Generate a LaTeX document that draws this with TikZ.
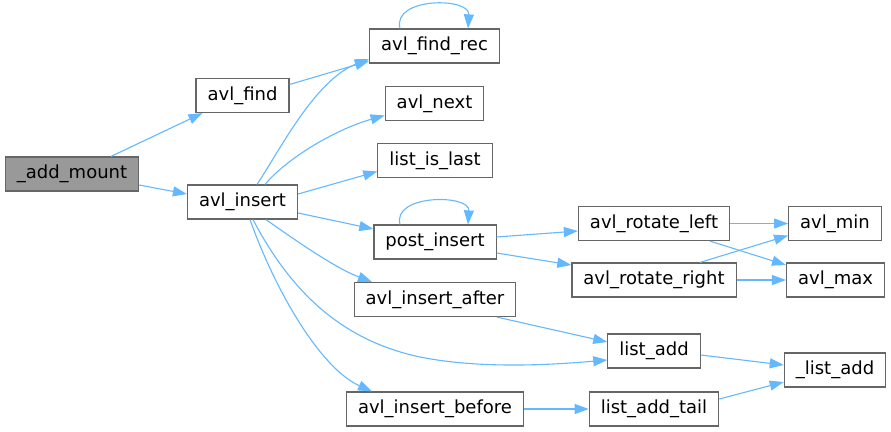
\documentclass[tikz,border=0pt]{standalone}
\usepackage{fontspec}
\setmainfont{DejaVu Sans}
\usetikzlibrary{arrows.meta}
\definecolor{edgeblue}{HTML}{63B8FF}
\definecolor{boxgray}{HTML}{666666}
\definecolor{rootfill}{HTML}{999999}
\tikzset{
  fn/.style={draw=boxgray, fill=white, line width=1.2pt, minimum height=34pt,
    inner xsep=11.5pt, inner ysep=0pt, text height=13pt, text depth=4pt,
    font=\fontsize{18pt}{20pt}\selectfont},
  rootfn/.style={fn, fill=rootfill},
  call/.style={draw=edgeblue, line width=1.1pt, -{Triangle[length=14pt,width=10pt]}}
}
\begin{document}
\begin{tikzpicture}[x=1pt,y=-1pt]
\useasboundingbox (0,0) rectangle (891,431);
% nodes
\node[rootfn] (addmount) at (72,174) {\_add\_mount};
\node[fn] (avlfind) at (242.5,95.5) {avl\_find};
\node[fn] (avlinsert) at (242.5,202) {avl\_insert};
\node[fn] (findrec) at (434.5,46) {avl\_find\_rec};
\node[fn] (avlnext) at (434.5,103.5) {avl\_next};
\node[fn] (islast) at (435,160.5) {list\_is\_last};
\node[fn] (postins) at (435,242) {post\_insert};
\node[fn] (insafter) at (435,299.5) {avl\_insert\_after};
\node[fn] (insbefore) at (435,409) {avl\_insert\_before};
\node[fn] (rotleft) at (654,223.5) {avl\_rotate\_left};
\node[fn] (rotright) at (654,280) {avl\_rotate\_right};
\node[fn] (listadd) at (654,351) {list\_add};
\node[fn] (addtail) at (654,409) {list\_add\_tail};
\node[fn] (avlmin) at (835,223.5) {avl\_min};
\node[fn] (avlmax) at (835.5,280) {avl\_max};
\node[fn] (ladd) at (835,370) {\_list\_add};
% edges
\draw[call] ([xshift=39pt]addmount.north) -- ([xshift=-40pt]avlfind.south);
\draw[call] ([yshift=-11pt]addmount.east) -- ([yshift=8pt]avlinsert.west);
\draw[call] ([yshift=11pt]avlfind.east) -- ([yshift=-15pt]findrec.west);
\draw[call] ([xshift=14.5pt]avlinsert.north) .. controls (280,150) and (315,80) .. ([yshift=-13pt]findrec.west);
\draw[call] ([xshift=22.5pt]avlinsert.north) .. controls (290,155) and (340,128) .. ([yshift=-12pt]avlnext.west);
\draw[call] ([yshift=8pt]avlinsert.east) -- ([yshift=-11pt]islast.west);
\draw[call] ([yshift=-11pt]avlinsert.east) -- ([yshift=13pt]postins.west);
\draw[call] ([xshift=-35pt]postins.north) .. controls (392,194) and (470,194) .. ([xshift=33pt]postins.north);
\draw[call] ([xshift=-34.5pt]findrec.north) .. controls (392,-3) and (470,-3) .. ([xshift=33.5pt]findrec.north);
\draw[call] ([xshift=23.5pt]avlinsert.south) .. controls (295,240) and (335,268) .. ([xshift=-63pt]insafter.north);
\draw[call] ([xshift=10.5pt]avlinsert.south) .. controls (290,290) and (340,340) .. (420,357) .. controls (480,369) and (550,365) .. ([yshift=-9pt]listadd.west);
\draw[call] ([xshift=7.5pt]avlinsert.south) .. controls (275,290) and (320,368) .. ([xshift=-63pt]insbefore.north);
\draw[call] ([yshift=5pt]postins.east) -- ([yshift=-7.5pt]rotleft.west);
\draw[call] ([yshift=-11pt]postins.east) -- ([yshift=15pt]rotright.west);
\draw[call] (rotleft.east) -- (avlmin.west);
\draw[call] ([xshift=56pt]rotleft.south) -- ([yshift=15pt]avlmax.west);
\draw[call] ([xshift=46pt]rotright.north) -- ([yshift=-12pt]avlmin.west);
\draw[call] (rotright.east) -- (avlmax.west);
\draw[call] ([xshift=62pt]insafter.south) -- ([yshift=9pt]listadd.west);
\draw[call] ([yshift=-4pt]listadd.east) -- ([yshift=5pt]ladd.west);
\draw[call] (insbefore.east) -- (addtail.west);
\draw[call] ([yshift=10pt]addtail.east) -- ([yshift=-12pt]ladd.west);
\end{tikzpicture}
\end{document}
